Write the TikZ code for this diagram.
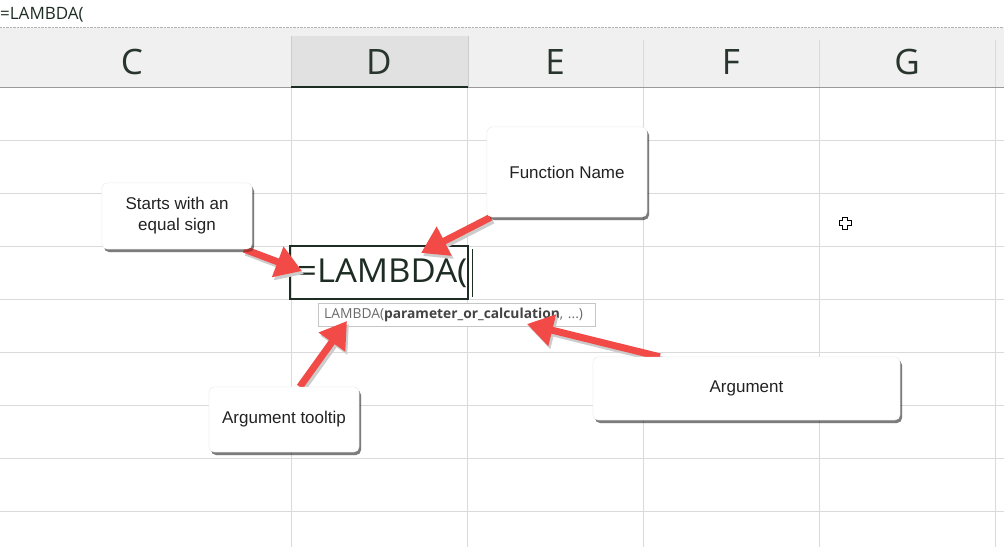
\documentclass[tikz,border=0pt]{standalone}
\usepackage{fontspec}
\setmainfont{Liberation Sans}
\newfontfamily\uifont{Open Sans}
\usetikzlibrary{arrows.meta,shadows}
\definecolor{hdrbg}{HTML}{F0F0F0}
\definecolor{hdrsel}{HTML}{E1E1E1}
\definecolor{gridc}{HTML}{DADADA}
\definecolor{cellc}{HTML}{1E2D24}
\definecolor{arrred}{HTML}{F24B47}
\definecolor{txtc}{HTML}{222222}
\definecolor{tipgray}{HTML}{6A6A6A}
\definecolor{tipbold}{HTML}{444444}
\begin{document}
\begin{tikzpicture}[x=1pt,y=-1pt,
  gridline/.style={draw=gridc, line width=0.8pt},
  hdrlabel/.style={font=\uifont\fontsize{35}{35}\selectfont, text=cellc!90!gray},
  callout/.style={fill=white, draw=gray!15, rounded corners=5pt, align=center,
    font=\fontsize{17}{21}\selectfont, text=txtc,
    drop shadow={shadow xshift=2pt, shadow yshift=-3pt, opacity=0.3, fill=black}},
  arr/.style={draw=arrred, line width=7pt, -{Triangle[length=26pt,width=31pt,fill=arrred]}},
  arrshade/.style={draw=gray!40, line width=7pt, -{Triangle[length=26pt,width=31pt,fill=gray!40]},
    transform canvas={shift={(2pt,-3pt)}}}
]
\useasboundingbox (0,0) rectangle (1004,547);
\fill[white] (0,0) rectangle (1004,547);
% formula bar
\node[anchor=west, inner sep=0pt, font=\uifont\fontsize{17}{17}\selectfont, text=cellc] (fbar) at (0,15) {=LAMBDA(};
\draw[gray!60, densely dotted] (0,27.5) -- (1004,27.5);
% header
\fill[hdrbg] (0,28) rectangle (1004,87);
\fill[hdrsel] (291,36) rectangle (468,87);
\foreach \x in {643,819,995} \draw[gridline] (\x,40) -- (\x,87);
\draw[gray!40] (291,36) -- (291,87);
\draw[gray!40] (468,36) -- (468,87);
\draw[gray!80, line width=0.8pt] (0,87) -- (1004,87);
\draw[cellc, line width=1.6pt] (291,87) -- (468,87);
\node[hdrlabel] (hC) at (132,62) {C};
\node[hdrlabel] (hD) at (379,62) {D};
\node[hdrlabel] (hE) at (555,62) {E};
\node[hdrlabel] (hF) at (731,62) {F};
\node[hdrlabel] (hG) at (907,62) {G};
% grid
\foreach \x in {291,467,643,819,995} \draw[gridline] (\x,88) -- (\x,547);
\foreach \y in {140,193,246,299,352,405,458,511} \draw[gridline] (0,\y) -- (1004,\y);
% active cell
\draw[cellc, line width=1.6pt] (290,246) rectangle (468,299);
\node[anchor=west, inner sep=0pt, xscale=1.05, font=\uifont\fontsize{33}{33}\selectfont, text=cellc] (cell) at (297,273) {=LAMBDA(};
\draw[cellc, line width=1pt] (472,249) -- (472,297);
% tooltip
\node[anchor=north west, draw=gray!45, fill=white, minimum width=277pt, minimum height=23pt, inner xsep=6pt, inner ysep=0pt,
  text width=265pt, font=\uifont\fontsize{13.8}{14}\selectfont] (tip) at (318,303)
  {\textcolor{tipgray}{LAMBDA(}\textcolor{tipbold}{\bfseries parameter\_or\_calculation}\textcolor{tipgray}{, ...)}};
% cursor cross
\draw[black, line width=0.7pt, fill=white] (842.5,217) -- (847.5,217) -- (847.5,220.5) -- (851,220.5) -- (851,225.5) -- (847.5,225.5) -- (847.5,229) -- (842.5,229) -- (842.5,225.5) -- (839,225.5) -- (839,220.5) -- (842.5,220.5) -- cycle;
% callout boxes (positions)
\path (177,216) node[callout, minimum width=150pt, minimum height=66pt] (starts) {Starts with an\\equal sign};
\path (567,172) node[callout, minimum width=160pt, minimum height=90pt] (fname) {Function Name};
\path (746.5,388.5) node[callout, minimum width=307pt, minimum height=63pt] (argbox) {Argument};
\path (284,419.5) node[callout, minimum width=150pt, minimum height=65pt] (argtip) {Argument tooltip};
% arrow targets
\coordinate (t1) at (302,271);
\coordinate (t2) at (421,253);
\coordinate (t3) at (347,321);
\coordinate (t4) at (527,324);
% arrows: shadows then red
\draw[arrshade] ([xshift=-8pt]starts.south east) -- (t1);
\draw[arrshade] ([xshift=4pt]fname.south west) -- (t2);
\draw[arrshade] ([xshift=91pt]argtip.north west) -- (t3);
\draw[arrshade] ([xshift=67pt]argbox.north west) -- (t4);
\draw[arr] ([xshift=-8pt]starts.south east) -- (t1);
\draw[arr] ([xshift=4pt]fname.south west) -- (t2);
\draw[arr] ([xshift=91pt]argtip.north west) -- (t3);
\draw[arr] ([xshift=67pt]argbox.north west) -- (t4);
% redraw boxes on top so arrow tails tuck under
\path (177,216) node[callout, minimum width=150pt, minimum height=66pt] {Starts with an\\equal sign};
\path (567,172) node[callout, minimum width=160pt, minimum height=90pt] {Function Name};
\path (746.5,388.5) node[callout, minimum width=307pt, minimum height=63pt] {Argument};
\path (284,419.5) node[callout, minimum width=150pt, minimum height=65pt] {Argument tooltip};
\end{tikzpicture}
\end{document}
